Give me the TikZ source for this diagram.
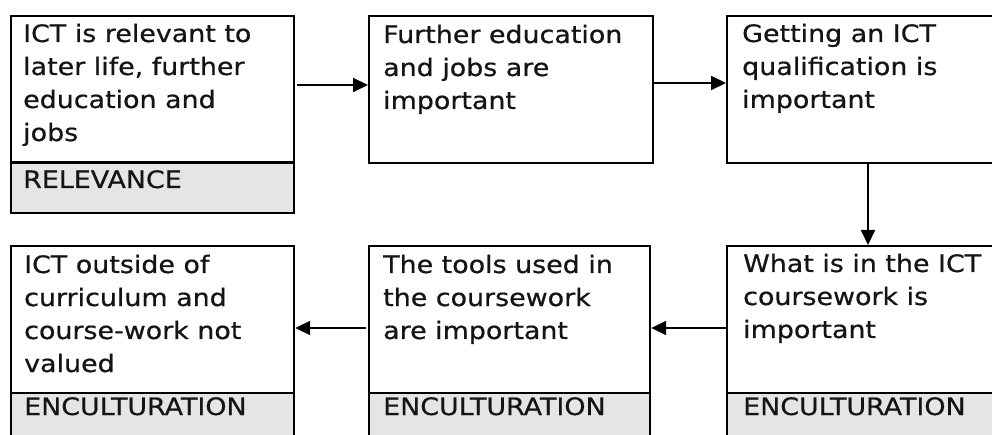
\documentclass[tikz,border=0pt]{standalone}
\usepackage{fontspec}
\setmainfont{DejaVu Sans}[FakeStretch=1.12, FakeBold=0.6]
\usetikzlibrary{arrows.meta}
\definecolor{bandgray}{gray}{0.9}
\newcommand\boxlines[1]{\parbox[t]{280pt}{\raggedright #1}}

\begin{document}
\begin{tikzpicture}[x=1pt, y=-1pt,
  frame/.style={draw=black, line width=2.2pt, rectangle, inner sep=0pt, anchor=north west},
  band/.style={fill=bandgray, draw=none, rectangle, inner sep=0pt, anchor=south west},
  divider/.style={line width=2.2pt},
  txt/.style={anchor=base west, inner sep=0pt, text=black!92, font=\fontsize{24}{33}\selectfont},
  flow/.style={line width=2pt, -{Triangle[length=15pt, width=14pt]}}]
\useasboundingbox (0,0) rectangle (992,435);
\clip (0,0) rectangle (992,435);
\fill[white] (0,0) rectangle (992,435);

% grey label bands
\node[band, minimum width=283pt, minimum height=49pt] (g1) at (10,212) {};
\node[band, minimum width=283pt, minimum height=72pt] (g6) at (10,465) {};
\node[band, minimum width=281pt, minimum height=72pt] (g5) at (368,465) {};
\node[band, minimum width=300pt, minimum height=72pt] (g4) at (726,465) {};

% top row
\node[frame, minimum width=283pt, minimum height=197pt] (b1) at (10,15) {};
\node[frame, minimum width=284pt, minimum height=147pt] (b2) at (368,15) {};
\node[frame, minimum width=300pt, minimum height=147pt] (b3) at (726,15) {};

% bottom row (boxes run past the lower edge)
\node[frame, minimum width=283pt, minimum height=220pt] (b6) at (10,245) {};
\node[frame, minimum width=281pt, minimum height=220pt] (b5) at (368,245) {};
\node[frame, minimum width=300pt, minimum height=220pt] (b4) at (726,245) {};

% band dividers
\foreach \g in {g1,g4,g5,g6}
  \draw[divider] (\g.north west) -- (\g.north east);

% box texts
\node[txt] (t1) at (23,42) {\boxlines{ICT is relevant to\\later life, further\\education and\\jobs}};
\node[txt] (l1) at (23,188) {RELEVANCE};
\node[txt] (t2) at (383,43) {\boxlines{Further education\\and jobs are\\important}};
\node[txt] (t3) at (742,42) {\boxlines{Getting an ICT\\qualification is\\important}};
\node[txt] (t4) at (743,272) {\boxlines{What is in the ICT\\coursework is\\important}};
\node[txt] (l4) at (743,415) {ENCULTURATION};
\node[txt] (t5) at (383,273) {\boxlines{The tools used in\\the coursework\\are important}};
\node[txt] (l5) at (383,415) {ENCULTURATION};
\node[txt] (t6) at (24,273) {\boxlines{ICT outside of\\curriculum and\\course-work not\\valued}};
\node[txt] (l6) at (24,415) {ENCULTURATION};

% connectors
\coordinate (y12) at (0,85);
\coordinate (y23) at (0,83);
\coordinate (x34) at (868,0);
\coordinate (ylow) at (0,328);
\draw[flow, shorten <=2pt] (b1.east |- y12) -- (b2.west |- y12);
\draw[flow] (b2.east |- y23) -- (b3.west |- y23);
\draw[flow] (b3.south -| x34) -- (b4.north -| x34);
\draw[flow] (b4.west |- ylow) -- (b5.east |- ylow);
\draw[flow, shorten <=2pt] (b5.west |- ylow) -- (b6.east |- ylow);
\end{tikzpicture}
\end{document}
